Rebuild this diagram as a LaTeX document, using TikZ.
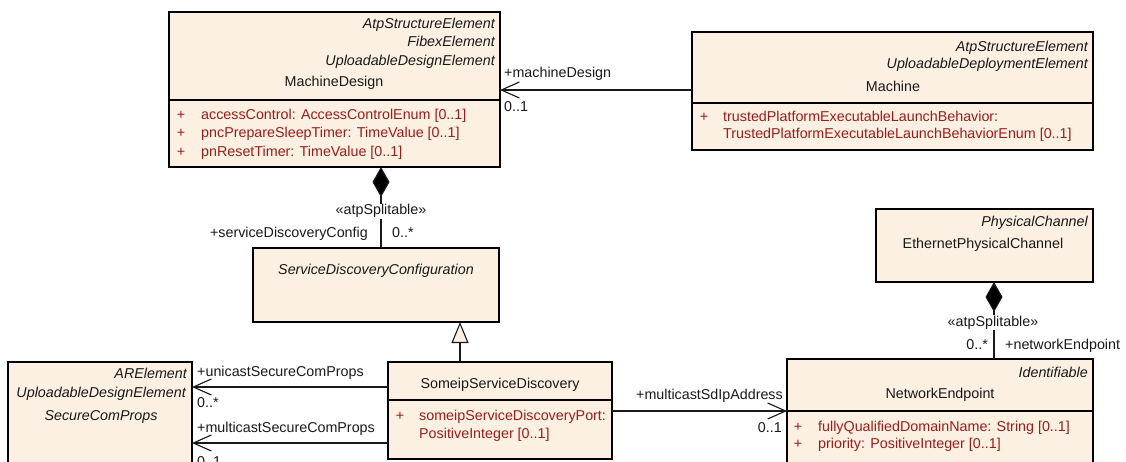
\documentclass[tikz,border=0pt]{standalone}
\usepackage{fontspec}
\setmainfont{Liberation Sans}
\usetikzlibrary{arrows.meta}
\definecolor{boxfill}{RGB}{252,240,226}
\definecolor{attrred}{RGB}{150,30,30}
\definecolor{txtc}{RGB}{25,25,25}
\begin{document}
\begin{tikzpicture}[x=1pt,y=-1pt,
  font=\fontsize{14.3}{17}\selectfont,
  cls/.style={draw=black, line width=1.2pt, fill=boxfill, anchor=north west, inner sep=0pt, outer sep=0pt},
  lbl/.style={inner sep=0pt, text=txtc},
  itl/.style={lbl, font=\fontsize{14.3}{17}\selectfont\itshape, anchor=base east},
  cname/.style={lbl, anchor=base},
  plus/.style={inner sep=0pt, text=attrred, anchor=base},
  attr/.style={inner sep=0pt, text=attrred, anchor=base west},
  sep/.style={line width=1.1pt},
  conn/.style={line width=1.1pt, draw=txtc},
  assoc/.style={conn, -{Straight Barb[length=18pt,width=16pt,line width=1.1pt]}},
  comp/.style={conn, {Diamond[length=30pt,width=17pt,fill=black]}-},
  gen/.style={conn, -{Triangle[length=21pt,width=17pt,fill=boxfill,line width=1.1pt]}},
  stereo/.style={lbl, anchor=base, fill=white, inner sep=1pt}
]
\useasboundingbox (0,0) rectangle (1126,462);
\clip (0,0) rectangle (1126,462);

% ---------- boxes ----------
\node[cls, minimum width=331pt, minimum height=155pt] (md) at (169,12) {};
\node[cls, minimum width=401pt, minimum height=118pt] (machine) at (692,32) {};
\node[cls, minimum width=246pt, minimum height=74pt] (sdc) at (253,248) {};
\node[cls, minimum width=184pt, minimum height=130pt] (scp) at (8,362) {};
\node[cls, minimum width=224pt, minimum height=97pt] (ssd) at (388,362) {};
\node[cls, minimum width=217pt, minimum height=73pt] (epc) at (876,209) {};
\node[cls, minimum width=306pt, minimum height=130pt] (ne) at (787,359) {};

% separators
\draw[sep] (md.west |- 0,100) -- (md.east |- 0,100);
\draw[sep] (machine.west |- 0,103) -- (machine.east |- 0,103);
\draw[sep] (ssd.west |- 0,400) -- (ssd.east |- 0,400);
\draw[sep] (ne.west |- 0,411) -- (ne.east |- 0,411);

% ---------- MachineDesign ----------
\node[itl] (md1) at (495,29) {AtpStructureElement};
\node[itl] (md2) at (495,47) {FibexElement};
\node[itl] (md3) at (495,66) {UploadableDesignElement};
\node[cname] (mdn) at (334,87) {MachineDesign};
\node[plus] (mdp1) at (181,120) {+};
\node[attr] (mda1) at (201,120) {accessControl: AccessControlEnum [0..1]};
\node[plus] (mdp2) at (181,138) {+};
\node[attr] (mda2) at (201,138) {pncPrepareSleepTimer: TimeValue [0..1]};
\node[plus] (mdp3) at (181,157) {+};
\node[attr] (mda3) at (201,157) {pnResetTimer: TimeValue [0..1]};

% ---------- Machine ----------
\node[itl] (m1) at (1088,52) {AtpStructureElement};
\node[itl] (m2) at (1088,69) {UploadableDeploymentElement};
\node[cname] (mn) at (893,92) {Machine};
\node[plus] (mp1) at (704,122) {+};
\node[attr] (ma1) at (723,122) {trustedPlatformExecutableLaunchBehavior:};
\node[attr] (ma2) at (723,139) {TrustedPlatformExecutableLaunchBehaviorEnum [0..1]};

% ---------- ServiceDiscoveryConfiguration ----------
\node[lbl, font=\fontsize{14.3}{17}\selectfont\itshape, anchor=base] (sdcn) at (376,274) {ServiceDiscoveryConfiguration};

% ---------- SecureComProps ----------
\node[itl] (s1) at (187,378) {ARElement};
\node[itl] (s2) at (186,397) {UploadableDesignElement};
\node[lbl, font=\fontsize{14.3}{17}\selectfont\itshape, anchor=base] (sn) at (101,420) {SecureComProps};

% ---------- SomeipServiceDiscovery ----------
\node[cname] (ssdn) at (500,388) {SomeipServiceDiscovery};
\node[plus] (ssdp) at (400,420) {+};
\node[attr] (ssda1) at (419,420) {someipServiceDiscoveryPort:};
\node[attr] (ssda2) at (419,438) {PositiveInteger [0..1]};

% ---------- EthernetPhysicalChannel ----------
\node[itl] (e1) at (1088,227) {PhysicalChannel};
\node[cname] (en) at (983,249) {EthernetPhysicalChannel};

% ---------- NetworkEndpoint ----------
\node[itl] (n1) at (1088,377) {Identifiable};
\node[cname] (nn) at (940,398) {NetworkEndpoint};
\node[plus] (np1) at (798,431) {+};
\node[attr] (na1) at (818,431) {fullyQualifiedDomainName: String [0..1]};
\node[plus] (np2) at (798,448) {+};
\node[attr] (na2) at (818,448) {priority: PositiveInteger [0..1]};

% ---------- connectors ----------
\draw[assoc] (machine.west |- 0,90) -- (md.east |- 0,90);
\node[lbl, anchor=base west] (l1) at (504,78) {+machineDesign};
\node[lbl, anchor=base west] (l2) at (504,112) {0..1};

\draw[comp] (md.south -| 381,0) -- (sdc.north -| 381,0);
\node[stereo] (st1) at (381,215) {«atpSplitable»};
\node[lbl, anchor=base east] (l3) at (368,237) {+serviceDiscoveryConfig};
\node[lbl, anchor=base west] (l4) at (392,237) {0..*};

\draw[gen] (ssd.north -| 460,0) -- (sdc.south -| 460,0);

\draw[assoc] (ssd.west |- 0,387) -- (scp.east |- 0,387);
\node[lbl, anchor=base west] (l5) at (197,376) {+unicastSecureComProps};
\node[lbl, anchor=base west] (l6) at (197,407) {0..*};
\draw[assoc] (ssd.west |- 0,443) -- (scp.east |- 0,443);
\node[lbl, anchor=base west] (l7) at (197,432) {+multicastSecureComProps};
\node[lbl, anchor=base west] (l8) at (197,466) {0..1};

\draw[assoc] (ssd.east |- 0,411) -- (ne.west |- 0,411);
\node[lbl, anchor=base east] (l9) at (783,399) {+multicastSdIpAddress};
\node[lbl, anchor=base east] (l10) at (782,432) {0..1};

\draw[comp] (epc.south -| 994,0) -- (ne.north -| 994,0);
\node[stereo] (st2) at (993,326) {«atpSplitable»};
\node[lbl, anchor=base east] (l11) at (988,349) {0..*};
\node[lbl, anchor=base west] (l12) at (1005,349) {+networkEndpoint};
\end{tikzpicture}
\end{document}
